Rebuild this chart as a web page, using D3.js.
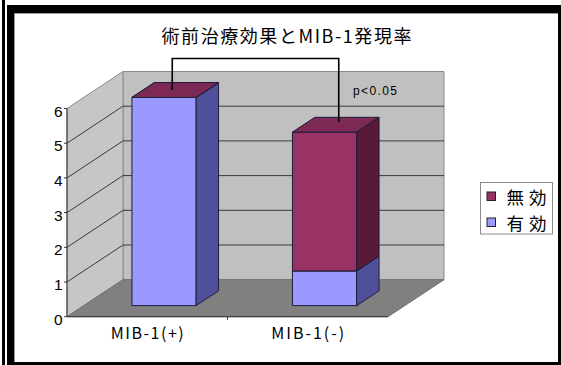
<!DOCTYPE html>
<html>
<head>
<meta charset="utf-8">
<script src="https://cdn.jsdelivr.net/npm/d3@7"></script>
<style>
  html, body { margin: 0; padding: 0; background: #fff; }
  svg { display: block; }
  text { font-family: "Liberation Sans", "Noto Sans CJK JP", sans-serif; fill: #000; }
  .jp { font-family: "Noto Sans CJK JP", "Liberation Sans", sans-serif; }
</style>
</head>
<body>
<script>

// ---------- data

var categories = ["MIB-1(+)", "MIB-1(-)"];
var seriesNames = ["有効", "無効"];          // stacked bottom -> top
var effective = [6, 1];                       // 有効
var ineffective = [0, 4];                     // 無効
var yTicks = [0, 1, 2, 3, 4, 5, 6];
var legendOrder = ["無効", "有効"];
var titleText = "術前治療効果とMIB-1発現率";
var noteText = "p<0.05";

// ---------- look

var W = 561, H = 365;
var colors = {
	"有効": { front: "#9999ff", side: "#50509a", top: "#7878cc" },
	"無効": { front: "#993366", side: "#581a38", top: "#7c2a55" }
};
var edgeColor = "#1c1c3a";

// 3d depth vector (full depth of the plot box)
var depthX = 56, depthY = -37;
var barDepthFrom = 0.3, barDepthTo = 0.7;

var svg = d3.select("body").append("svg")
	.attr("width", W).attr("height", H);

// ---------- frame

svg.append("rect").attr("x", 0).attr("y", 0).attr("width", W).attr("height", H).attr("fill", "#fff");
svg.append("rect").attr("x", 2).attr("y", 0).attr("width", 3).attr("height", H).attr("fill", "#000");
svg.append("rect").attr("x", 7).attr("y", 5).attr("width", W - 7).attr("height", H - 5).attr("fill", "#000");
svg.append("rect").attr("x", 14).attr("y", 13).attr("width", W - 17).attr("height", H - 16).attr("fill", "#9a9a9a");
svg.append("rect").attr("x", 15).attr("y", 14).attr("width", W - 18).attr("height", H - 17).attr("fill", "#fff");

// ---------- scales

var x = d3.scaleBand().domain(categories).range([67, 388]);
var y = d3.scaleLinear().domain([0, 6]).range([316.7, 108.5]);
var barWidth = x.bandwidth() / 2.5;

function proj(px, v, depth) {
	return [px + depth * depthX, y(v) + depth * depthY];
}
function poly(points) {
	return "M" + points.map(p => p[0].toFixed(2) + "," + p[1].toFixed(2)).join("L") + "Z";
}

var x0 = x.range()[0], x1 = x.range()[1];
var vMin = y.domain()[0], vMax = y.domain()[1];

// ---------- walls and floor

var walls = svg.append("g").attr("class", "walls");

// back wall
walls.append("path")
	.attr("d", poly([proj(x0, vMin, 1), proj(x1, vMin, 1), proj(x1, vMax, 1), proj(x0, vMax, 1)]))
	.attr("fill", "#c0c0c0").attr("stroke", "#8a8a8a").attr("stroke-width", 1);

// left wall
walls.append("path")
	.attr("d", poly([proj(x0, vMin, 0), proj(x0, vMin, 1), proj(x0, vMax, 1), proj(x0, vMax, 0)]))
	.attr("fill", "#c6c6c6").attr("stroke", "#8a8a8a").attr("stroke-width", 1);

// floor
walls.append("path")
	.attr("d", poly([proj(x0, vMin, 0), proj(x1, vMin, 0), proj(x1, vMin, 1), proj(x0, vMin, 1)]))
	.attr("fill", "#808080").attr("stroke", "#707070").attr("stroke-width", 1);

// gridlines
var grid = svg.append("g").attr("class", "grid");
grid.selectAll("line.back")
	.data(yTicks.filter(v => v > vMin && v < vMax))
	.enter().append("line").attr("class", "back")
	.attr("x1", d => proj(x0, d, 1)[0]).attr("y1", d => proj(x0, d, 1)[1])
	.attr("x2", d => proj(x1, d, 1)[0]).attr("y2", d => proj(x1, d, 1)[1])
	.attr("stroke", "#3a3a3a").attr("stroke-width", 1);
grid.selectAll("line.side")
	.data(yTicks.filter(v => v > vMin && v < vMax))
	.enter().append("line").attr("class", "side")
	.attr("x1", d => proj(x0, d, 0)[0]).attr("y1", d => proj(x0, d, 0)[1])
	.attr("x2", d => proj(x0, d, 1)[0]).attr("y2", d => proj(x0, d, 1)[1])
	.attr("stroke", "#3a3a3a").attr("stroke-width", 1);

// axis lines
svg.append("line")
	.attr("x1", x0).attr("y1", y(vMin)).attr("x2", x0).attr("y2", y(vMax))
	.attr("stroke", "#333").attr("stroke-width", 1);
svg.append("line")
	.attr("x1", x0).attr("y1", y(vMin)).attr("x2", x1).attr("y2", y(vMin))
	.attr("stroke", "#333").attr("stroke-width", 1);

// y ticks + labels
svg.selectAll("line.ytick").data(yTicks).enter().append("line")
	.attr("class", "ytick")
	.attr("x1", x0 - 3).attr("x2", x0).attr("y1", d => y(d)).attr("y2", d => y(d))
	.attr("stroke", "#333");
svg.selectAll("text.ylab").data(yTicks).enter().append("text")
	.attr("class", "ylab")
	.attr("x", x0 - 4.5).attr("y", d => y(d) + 8)
	.attr("text-anchor", "end")
	.attr("font-size", 15.5)
	.text(d => d);

// x ticks between categories
svg.selectAll("line.xtick").data(categories.slice(1)).enter().append("line")
	.attr("class", "xtick")
	.attr("x1", d => x(d)).attr("x2", d => x(d))
	.attr("y1", y(vMin)).attr("y2", y(vMin) + 3)
	.attr("stroke", "#333");

// category labels
svg.selectAll("text.xlab").data(categories).enter().append("text")
	.attr("class", "xlab jp")
	.attr("x", d => x(d) + x.bandwidth() / 2)
	.attr("y", 339)
	.attr("text-anchor", "middle")
	.attr("font-size", 16)
	.attr("textLength", 73).attr("lengthAdjust", "spacing")
	.text(d => d);

// ---------- bars

var stacks = categories.map((c, i) => {
	var segs = [];
	var base = 0;
	[effective[i], ineffective[i]].forEach((v, k) => {
		segs.push({ cat: c, name: seriesNames[k], y0: base, y1: base + v });
		base += v;
	});
	return segs;
});

var bars = svg.append("g").attr("class", "bars");
stacks.forEach(segs => {
	segs.forEach(s => {
		var cx = x(s.cat) + x.bandwidth() / 2;
		var l = cx - barWidth / 2, r = cx + barWidth / 2;
		var c = colors[s.name];
		var g = bars.append("g");
		// front
		g.append("path")
			.attr("d", poly([proj(l, s.y0, barDepthFrom), proj(r, s.y0, barDepthFrom), proj(r, s.y1, barDepthFrom), proj(l, s.y1, barDepthFrom)]))
			.attr("fill", c.front).attr("stroke", edgeColor).attr("stroke-width", 1).attr("stroke-linejoin", "round");
		// right side
		g.append("path")
			.attr("d", poly([proj(r, s.y0, barDepthFrom), proj(r, s.y0, barDepthTo), proj(r, s.y1, barDepthTo), proj(r, s.y1, barDepthFrom)]))
			.attr("fill", c.side).attr("stroke", edgeColor).attr("stroke-width", 1).attr("stroke-linejoin", "round");
		// top
		g.append("path")
			.attr("d", poly([proj(l, s.y1, barDepthFrom), proj(r, s.y1, barDepthFrom), proj(r, s.y1, barDepthTo), proj(l, s.y1, barDepthTo)]))
			.attr("fill", c.top).attr("stroke", edgeColor).attr("stroke-width", 1).attr("stroke-linejoin", "round");
	});
});

// ---------- significance bracket

var tops = stacks.map(segs => {
	var s = segs[segs.length - 1];
	var cx = x(s.cat) + x.bandwidth() / 2;
	return proj(cx, s.y1, (barDepthFrom + barDepthTo) / 2);
});
var bracketY = y(vMax) - 50;
svg.append("path")
	.attr("d", `M${tops[0][0] - 3},${tops[0][1]}V${bracketY}H${tops[1][0] + 3}V${tops[1][1] - 3}`)
	.attr("fill", "none").attr("stroke", "#000").attr("stroke-width", 1.6);

svg.append("text")
	.attr("x", 353).attr("y", 95)
	.attr("font-size", 12)
	.attr("textLength", 44).attr("lengthAdjust", "spacing")
	.text(noteText);

// ---------- title

svg.append("text")
	.attr("class", "jp")
	.attr("x", 286.5).attr("y", 43)
	.attr("text-anchor", "middle")
	.attr("font-size", 18)
	.attr("textLength", 250).attr("lengthAdjust", "spacing")
	.text(titleText);

// ---------- legend

var legend = svg.append("g").attr("class", "legend");
legend.append("rect")
	.attr("x", 480.5).attr("y", 182.5).attr("width", 72).attr("height", 51.5)
	.attr("fill", "#fff").attr("stroke", "#8c8c8c").attr("stroke-width", 1);
var li = legend.selectAll("g.item").data(legendOrder).enter().append("g")
	.attr("class", "item")
	.attr("transform", (d, i) => `translate(487, ${192 + i * 26})`);
li.append("rect")
	.attr("width", 8.5).attr("height", 8.5)
	.attr("fill", d => colors[d].front)
	.attr("stroke", "#222").attr("stroke-width", 1);
li.append("text")
	.attr("class", "jp")
	.attr("x", 19.5).attr("y", 11.5)
	.attr("font-size", 17.5)
	.attr("textLength", 40).attr("lengthAdjust", "spacing")
	.text(d => d);

</script>
</body>
</html>
